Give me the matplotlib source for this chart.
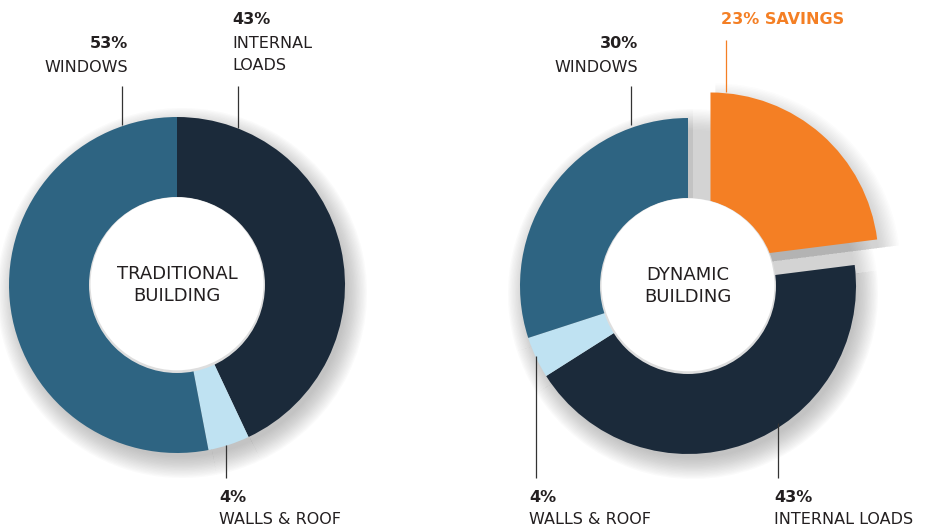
import matplotlib.pyplot as plt

W, H = 944, 529

# data
trad_names = ['INTERNAL LOADS', 'WALLS & ROOF', 'WINDOWS']
trad_values = [43, 4, 53]
dyn_names = ['SAVINGS', 'INTERNAL LOADS', 'WALLS & ROOF', 'WINDOWS']
dyn_values = [23, 43, 4, 30]

col = {'INTERNAL LOADS': '#1b2a3a', 'WALLS & ROOF': '#bfe2f2',
       'WINDOWS': '#2e6482', 'SAVINGS': '#f47f24'}
TXT = '#231f20'
ORANGE = '#f47f24'

R, R_IN = 168, 88


def Y(y):
    # pixel row (top origin) -> data y
    return H - y


fig = plt.figure(figsize=(W / 100, H / 100), dpi=100)
ax = fig.add_axes([0, 0, 1, 1])


def shadow(values, cx, cy, explode, colors, a=0.03, n=16):
    for k in range(n):
        ax.pie(values, explode=explode, radius=R - 4 + 1.4 * k, center=(cx + 5, Y(cy) - 8),
               startangle=90, counterclock=False, colors=colors,
               wedgeprops=dict(alpha=a, linewidth=0))


def donut(names, values, cx, cy, explode, title):
    colors = [col[n] for n in names]
    if explode is None:
        shadow(values, cx, cy, None, ['#777777'] * len(values))
    else:
        # ring shadow without the pulled-out slice, lighter shadow in the gap
        shadow(values, cx, cy, None,
               ['none' if e else '#777777' for e in explode])
        shadow(values, cx, cy, None,
               ['#888888' if e else 'none' for e in explode], a=0.024)
        shadow(values, cx, cy, explode,
               ['#777777' if e else 'none' for e in explode], a=0.018)
    ax.pie(values, explode=explode, radius=R, center=(cx, Y(cy)),
           startangle=90, counterclock=False, colors=colors,
           wedgeprops=dict(linewidth=0))
    # hole with a faint bevel on its lower rim
    ax.add_patch(plt.Circle((cx, Y(cy)), R_IN, color='#dedede', lw=0))
    ax.add_patch(plt.Circle((cx, Y(cy) + 1.2), R_IN - 1.5, color='white', lw=0))
    ax.text(cx, Y(cy), title, ha='center', va='center', fontsize=13,
            color=TXT, linespacing=1.35)


donut(trad_names, trad_values, 177, 285, None, 'TRADITIONAL\nBUILDING')
donut(dyn_names, dyn_values, 688, 286, [34, 0, 0, 0], 'DYNAMIC\nBUILDING')


def label(x, y, pct, name, ha, color=TXT):
    ax.text(x, Y(y), pct, ha=ha, va='center', fontsize=11.5, fontweight='bold', color=color)
    for i, line in enumerate(name.split('\n')):
        ax.text(x, Y(y + 23 * (i + 1)), line, ha=ha, va='center', fontsize=11.5, color=color)


def leader(x, y0, y1, color='#333333'):
    ax.plot([x, x], [Y(y0), Y(y1)], color=color, lw=0.9, solid_capstyle='butt')


# traditional labels
label(128, 44, f'{trad_values[2]}%', 'WINDOWS', 'right')
leader(122, 86, 125)
label(232, 20, f'{trad_values[0]}%', 'INTERNAL\nLOADS', 'left')
leader(238, 86, 128)
label(219, 497, f'{trad_values[1]}%', 'WALLS & ROOF', 'left')
leader(226, 445, 478)

# dynamic labels
label(638, 44, f'{dyn_values[3]}%', 'WINDOWS', 'right')
leader(631, 86, 125)
ax.text(721, Y(20), f'{dyn_values[0]}% SAVINGS', ha='left', va='center',
        fontsize=11.5, fontweight='bold', color=ORANGE)
leader(726, 40, 92, color=ORANGE)
label(529, 497, f'{dyn_values[2]}%', 'WALLS & ROOF', 'left')
leader(536, 356, 478)
label(774, 497, f'{dyn_values[1]}%', 'INTERNAL LOADS', 'left')
leader(778, 423, 478)

ax.set_xlim(0, W)
ax.set_ylim(0, H)
ax.set_aspect('equal')
ax.axis('off')

fig.savefig('out.png', dpi=100, facecolor='white')
